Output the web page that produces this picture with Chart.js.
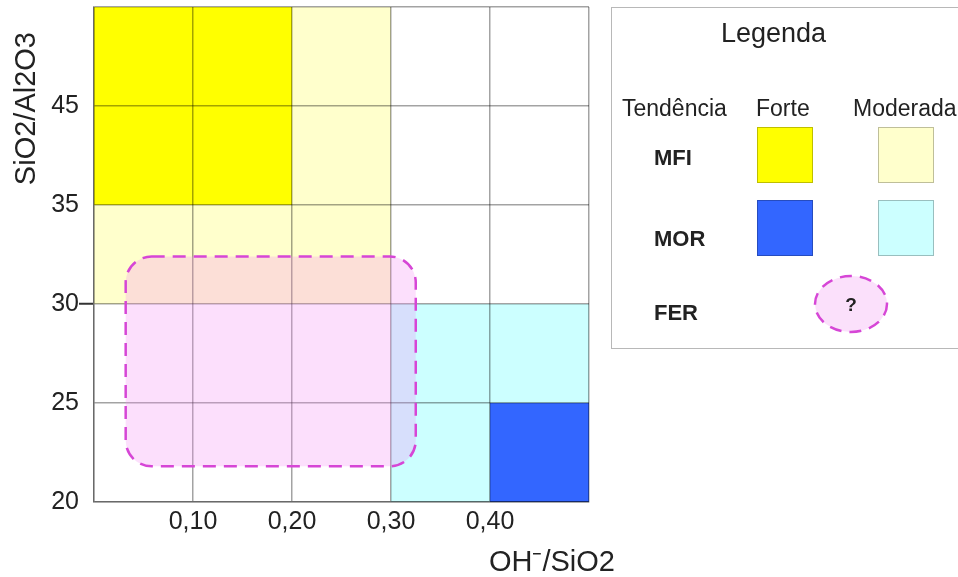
<!DOCTYPE html>
<html>
<head>
<meta charset="utf-8">
<script src="https://cdn.jsdelivr.net/npm/chart.js@4"></script>
<style>
    body { margin: 0; background: #fff; font-family: "Liberation Sans", Arial, sans-serif; color: #222; }
    #wrap { position: relative; width: 958px; height: 577px; overflow: hidden; }
    #chart { position: absolute; left: 0; top: 0; }
    #legend { position: absolute; left: 611px; top: 7px; width: 380px; height: 342px; border: 1.5px solid #b8b8b8; box-sizing: border-box; }
    #legend .t { position: absolute; transform: translateY(-50%); white-space: nowrap; line-height: 1; }
    #legend .sw { position: absolute; width: 56px; height: 56px; box-sizing: border-box; border: 1px solid rgba(0,0,0,0.25); }
    #legend svg { position: absolute; }
</style>
</head>
<body>
<div id="wrap">
    <canvas id="chart" width="958" height="577"></canvas>
    <div id="legend"></div>
</div>
<script>
document.addEventListener("DOMContentLoaded", () => {
    // Axes
    const xTickValues = [0.1, 0.2, 0.3, 0.4];
    const yTickValues = [20, 25, 30, 35, 45, 55];
    const yTickLabels = ["20", "25", "30", "35", "45", ""];
    const xTitle = "OH\u207B/SiO2";
    const yTitle = "SiO2/Al2O3";

    // Regions (OH-/SiO2 from-to, SiO2/Al2O3 from-to)
    const regionNames = ["MFI moderada", "MFI forte", "MOR moderada", "MOR forte"];
    const regionX0 = [0.0, 0.0, 0.3, 0.4];
    const regionX1 = [0.3, 0.2, 0.5, 0.5];
    const regionY0 = [30, 35, 20, 20];
    const regionY1 = [55, 55, 30, 25];
    const regionColors = ["#ffffcc", "#ffff00", "#ccffff", "#3366ff"];

    // FER zone (uncertain)
    const ferX = [0.032, 0.325];
    const ferY = [21.8, 32.4];

    // Legend
    const legendRows = ["MFI", "MOR", "FER"];
    const legendCols = ["Forte", "Moderada"];
    const legendSwatches = [["#ffff00", "#ffffcc"], ["#3366ff", "#ccffff"]];

    const gridColor = "rgba(0,0,0,0.36)";
    const fontFamily = "'Liberation Sans', Arial, sans-serif";

    // y axis is evenly spaced between uneven tick values
    function yPos(v) {
        for (let i = 0; i < yTickValues.length - 1; i++) {
            if (v <= yTickValues[i + 1]) {
                return i + (v - yTickValues[i]) / (yTickValues[i + 1] - yTickValues[i]);
            }
        }
        return yTickValues.length - 1;
    }

    const regionPlugin = {
        id: "regions",
        beforeDraw(chart) {
            const { ctx, scales: { x, y } } = chart;
            ctx.save();
            regionNames.forEach((name, i) => {
                const left = x.getPixelForValue(regionX0[i]);
                const right = x.getPixelForValue(regionX1[i]);
                const top = y.getPixelForValue(yPos(regionY1[i]));
                const bottom = y.getPixelForValue(yPos(regionY0[i]));
                ctx.fillStyle = regionColors[i];
                ctx.fillRect(left, top, right - left, bottom - top);
            });
            ctx.restore();
        },
        afterDraw(chart) {
            const { ctx, scales: { x, y } } = chart;
            const left = x.getPixelForValue(ferX[0]);
            const right = x.getPixelForValue(ferX[1]);
            const top = y.getPixelForValue(yPos(ferY[1]));
            const bottom = y.getPixelForValue(yPos(ferY[0]));
            ctx.save();
            ctx.beginPath();
            ctx.roundRect(left, top, right - left, bottom - top, 26);
            ctx.fillStyle = "rgba(245,140,245,0.28)";
            ctx.fill();
            ctx.setLineDash([13, 8]);
            ctx.lineWidth = 2.5;
            ctx.strokeStyle = "#d646d6";
            ctx.stroke();
            ctx.restore();

            // axis titles
            ctx.save();
            ctx.fillStyle = "#222";
            ctx.font = "29px " + fontFamily;
            ctx.textBaseline = "middle";
            ctx.textAlign = "right";
            ctx.fillText(xTitle, x.right + 26, 563);
            ctx.translate(27, y.top + 25);
            ctx.rotate(-Math.PI / 2);
            ctx.textAlign = "right";
            ctx.fillText(yTitle, 0, 0);
            ctx.restore();
        }
    };

    new Chart(document.getElementById("chart").getContext("2d"), {
        type: "scatter",
        data: { datasets: [] },
        options: {
            responsive: false,
            animation: false,
            layout: { padding: { top: 7, right: 369, left: 0, bottom: 0 } },
            plugins: { legend: { display: false }, tooltip: { enabled: false } },
            scales: {
                x: {
                    type: "linear",
                    min: 0,
                    max: 0.5,
                    grid: { color: gridColor, lineWidth: 1.5, drawTicks: false },
                    border: { color: gridColor, width: 1.5 },
                    ticks: {
                        stepSize: 0.1,
                        padding: 5,
                        color: "#222",
                        font: { family: fontFamily, size: 25 },
                        callback: (v) => {
                            const t = xTickValues.find(tv => Math.abs(tv - v) < 1e-6);
                            return t === undefined ? "" : t.toFixed(2).replace(".", ",");
                        }
                    },
                    afterFit: (s) => { s.height = 75; s.paddingLeft = 0; s.paddingRight = 0; }
                },
                y: {
                    type: "linear",
                    min: 0,
                    max: 5,
                    grid: {
                        color: gridColor,
                        lineWidth: 1.5,
                        tickLength: 15,
                        tickWidth: 2,
                        tickColor: (c) => (c.tick && c.tick.value === 2 ? "#333" : "rgba(0,0,0,0)")
                    },
                    border: { color: gridColor, width: 1.5 },
                    ticks: {
                        stepSize: 1,
                        padding: 0,
                        color: "#222",
                        font: { family: fontFamily, size: 25 },
                        callback: (v) => yTickLabels[Math.round(v)]
                    },
                    afterFit: (s) => { s.width = 94; s.paddingTop = 0; s.paddingBottom = 0; }
                }
            }
        },
        plugins: [regionPlugin]
    });

    // Legend box
    const legend = document.getElementById("legend");
    const ox = 611, oy = 7;

    function addText(text, left, cy, size, bold) {
        const el = document.createElement("div");
        el.className = "t";
        el.textContent = text;
        el.style.left = (left - ox) + "px";
        el.style.top = (cy - oy) + "px";
        el.style.fontSize = size + "px";
        if (bold) el.style.fontWeight = "bold";
        legend.appendChild(el);
    }

    addText("Legenda", 720, 32, 27, false);
    addText("Tendência", 621, 107, 23, false);
    addText(legendCols[0], 755, 107, 23, false);
    addText(legendCols[1], 852, 107, 23, false);

    const rowY = [157, 238, 312];
    legendRows.forEach((name, i) => addText(name, 653, rowY[i], 22, true));

    const swatchX = [756, 877];
    const swatchY = [126, 199];
    legendSwatches.forEach((row, r) => {
        row.forEach((color, c) => {
            const sw = document.createElement("div");
            sw.className = "sw";
            sw.style.left = (swatchX[c] - ox) + "px";
            sw.style.top = (swatchY[r] - oy) + "px";
            sw.style.background = color;
            legend.appendChild(sw);
        });
    });

    // FER symbol
    const svgNS = "http://www.w3.org/2000/svg";
    const svg = document.createElementNS(svgNS, "svg");
    svg.setAttribute("width", "80");
    svg.setAttribute("height", "64");
    svg.style.left = (810 - ox) + "px";
    svg.style.top = (271 - oy) + "px";
    const ell = document.createElementNS(svgNS, "ellipse");
    ell.setAttribute("cx", "40");
    ell.setAttribute("cy", "32");
    ell.setAttribute("rx", "36");
    ell.setAttribute("ry", "28");
    ell.setAttribute("fill", "#fbe0fb");
    ell.setAttribute("stroke", "#d646d6");
    ell.setAttribute("stroke-width", "2.5");
    ell.setAttribute("stroke-dasharray", "12 8");
    svg.appendChild(ell);
    const q = document.createElementNS(svgNS, "text");
    q.setAttribute("x", "40");
    q.setAttribute("y", "39");
    q.setAttribute("text-anchor", "middle");
    q.setAttribute("font-family", "Liberation Sans, Arial, sans-serif");
    q.setAttribute("font-weight", "bold");
    q.setAttribute("font-size", "19");
    q.setAttribute("fill", "#222");
    q.textContent = "?";
    svg.appendChild(q);
    legend.appendChild(svg);
});
</script>
</body>
</html>
